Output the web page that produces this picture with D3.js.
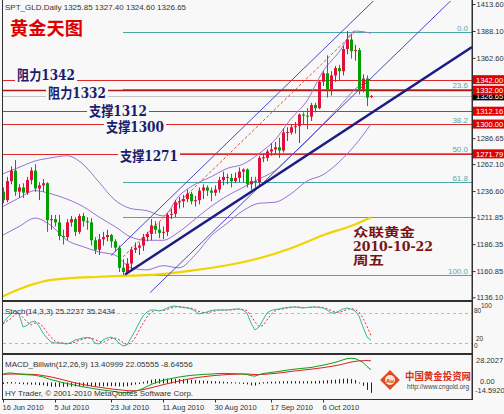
<!DOCTYPE html>
<html><head><meta charset="utf-8">
<script src="https://cdn.jsdelivr.net/npm/d3@7"></script>
<style>
body{margin:0;background:#f8f8f8;}
svg{display:block;font-family:"Liberation Sans",Arial,sans-serif;}
</style></head>
<body><svg id="c" width="504" height="414"></svg>
<script>
// ---------------- DATA ----------------
const dates = ["2010-06-16","2010-06-17","2010-06-18","2010-06-21","2010-06-22","2010-06-23","2010-06-24","2010-06-25","2010-06-28","2010-06-29","2010-06-30","2010-07-01","2010-07-02","2010-07-05","2010-07-06","2010-07-07","2010-07-08","2010-07-09","2010-07-12","2010-07-13","2010-07-14","2010-07-15","2010-07-16","2010-07-19","2010-07-20","2010-07-21","2010-07-22","2010-07-23","2010-07-26","2010-07-27","2010-07-28","2010-07-29","2010-07-30","2010-08-02","2010-08-03","2010-08-04","2010-08-05","2010-08-06","2010-08-09","2010-08-10","2010-08-11","2010-08-12","2010-08-13","2010-08-16","2010-08-17","2010-08-18","2010-08-19","2010-08-20","2010-08-23","2010-08-24","2010-08-25","2010-08-26","2010-08-27","2010-08-30","2010-08-31","2010-09-01","2010-09-02","2010-09-03","2010-09-06","2010-09-07","2010-09-08","2010-09-09","2010-09-10","2010-09-13","2010-09-14","2010-09-15","2010-09-16","2010-09-17","2010-09-20","2010-09-21","2010-09-22","2010-09-23","2010-09-24","2010-09-27","2010-09-28","2010-09-29","2010-09-30","2010-10-01","2010-10-04","2010-10-05","2010-10-06","2010-10-07","2010-10-08","2010-10-11","2010-10-12","2010-10-13","2010-10-14","2010-10-15","2010-10-18","2010-10-19","2010-10-20","2010-10-21","2010-10-22"];
const open  = [1236,1228,1246,1256,1236,1240,1235,1247,1256,1239,1242,1244,1209,1210,1207,1194,1193,1207,1210,1198,1213,1208,1207,1190,1181,1191,1193,1195,1189,1183,1164,1160,1168,1181,1183,1185,1193,1196,1204,1200,1197,1198,1214,1215,1226,1227,1229,1234,1227,1228,1237,1240,1237,1235,1238,1247,1250,1249,1246,1249,1255,1257,1243,1246,1245,1268,1268,1274,1276,1278,1275,1292,1292,1297,1298,1309,1308,1307,1318,1315,1340,1348,1333,1346,1353,1350,1371,1380,1369,1370,1333,1343,1325.85];
const high  = [1240,1250,1260,1266,1243,1244,1250,1259,1262,1245,1248,1245,1214,1214,1214,1200,1210,1213,1212,1215,1216,1212,1211,1193,1196,1198,1200,1196,1191,1185,1172,1173,1184,1188,1188,1196,1198,1210,1208,1207,1203,1216,1220,1228,1231,1233,1238,1236,1232,1240,1243,1242,1240,1242,1250,1255,1253,1253,1254,1259,1258,1258,1250,1250,1270,1272,1276,1282,1283,1287,1296,1297,1300,1302,1310,1311,1315,1320,1320,1341,1350,1365,1350,1355,1356,1374,1388,1385,1375,1372,1347,1346,1327.40];
const low   = [1225,1226,1243,1232,1230,1230,1233,1243,1236,1228,1236,1198,1200,1203,1190,1186,1190,1203,1194,1196,1203,1200,1185,1177,1176,1185,1189,1183,1179,1160,1157,1158,1162,1178,1176,1180,1189,1190,1196,1192,1191,1194,1210,1212,1220,1221,1226,1224,1222,1224,1229,1232,1227,1232,1235,1242,1243,1240,1244,1245,1245,1240,1238,1240,1242,1264,1265,1270,1272,1268,1273,1284,1290,1291,1282,1300,1295,1303,1311,1314,1336,1325,1327,1340,1341,1346,1366,1362,1360,1328,1330,1317,1324.60];
const close = [1228,1246,1256,1236,1240,1235,1247,1256,1239,1242,1244,1209,1210,1207,1194,1193,1207,1210,1198,1213,1208,1207,1190,1181,1191,1193,1195,1189,1183,1164,1160,1168,1181,1183,1185,1193,1196,1204,1200,1197,1198,1214,1215,1226,1227,1229,1234,1227,1228,1237,1240,1237,1235,1238,1247,1250,1249,1246,1249,1255,1257,1243,1246,1245,1268,1268.5,1274,1276,1278,1275,1292,1292.5,1297,1298,1309,1308,1307,1318,1315,1340,1348,1333,1346,1353,1350,1371,1380,1369,1370,1333,1343,1325,1326.65];

// Bollinger bands (20,2) read at every 4th bar
const bbIdx    = [0,4,8,12,16,20,24,28,32,36,40,44,48,52,56,60,64,68,72,76,80,84,88,92];
const bbUpper  = [1253,1259,1265,1268,1270,1262,1245,1228,1220,1218,1213,1232,1243,1250,1258,1262,1272,1285,1305,1322,1350,1368,1388,1386];
const bbMiddle = [1222,1230,1237,1234,1229,1222,1212,1203,1193,1190,1190,1198,1210,1222,1232,1240,1248,1256,1270,1284,1300,1316,1333,1343];
const bbLower  = [1195,1203,1211,1204,1190,1184,1179,1176,1164,1162,1166,1164,1176,1194,1206,1218,1225,1226,1234,1246,1252,1264,1280,1300];
// long moving average (yellow)
const maIdx  = [0,4,8,10,16,24,32,40,48,56,64,72,80,88,92];
const maVals = [1137,1143.7,1149,1151,1154,1155.5,1156.5,1158,1161.7,1166.4,1173,1182.5,1194.8,1205,1211.9];

const stochK = [60,70,78,84,78,52,55,62,64,54,40,30,22,20,20,19,18,21,26,28,30,31,30,20,18,26,30,32,28,20,14,16,30,44,60,74,82,86,86,84,86,90,93,94,92,91,90,88,84,78,80,82,85,86,86,86,86,87,88,88,86,80,60,46,52,66,80,85,87,88,90,91,92,92,91,90,91,92,92,91,90,86,80,80,84,88,90,88,84,74,52,32,25.2237];
const stochD = [58,64,69,77,80,71,62,56,60,60,53,41,31,24,21,20,19,19,22,25,28,30,30,27,23,21,25,29,30,27,21,17,20,30,45,59,72,81,85,85,85,87,90,92,93,92,91,90,87,83,81,80,82,84,86,86,86,86,87,88,87,85,75,62,53,55,66,77,84,87,88,90,91,92,92,91,91,91,92,92,91,89,85,82,81,84,87,89,87,82,70,53,35.2434];
const macdMain = [9,10,10.2,9.8,9.2,8.8,8.5,8.3,8.0,7.2,6.4,5.0,3.8,2.8,1.8,0.8,0,-0.8,-1.6,-2.4,-3.2,-3.8,-4.5,-5.2,-5.8,-6.3,-6.8,-7.3,-7.9,-8.5,-9.0,-9.0,-8.3,-7.5,-6.6,-4.8,-3.0,-1.0,0.5,1.8,3.0,3.9,4.8,5.6,6.3,6.9,7.4,7.9,8.2,8.5,8.8,9.0,9.2,9.5,9.7,9.7,9.7,9.7,9.6,9.4,9.2,8.8,7.6,7.2,8.5,9.7,10.2,10.8,11.2,11.8,12.4,13.0,13.5,14.0,14.4,14.8,15.2,15.6,16.3,17.1,17.8,18.7,19.6,20.5,21.7,23.0,24.2,24.6,24.3,22.5,20.5,16.5,13.40999];
const macdSignal = [9,9.1,9.2,9.2,9.2,9.1,9.0,8.9,8.7,8.4,7.6,7.1,6.4,5.5,4.6,3.6,2.6,1.6,0.7,-0.2,-1.0,-1.7,-2.4,-3.0,-3.6,-4.1,-4.7,-5.2,-5.7,-6.1,-6.5,-6.9,-7.1,-7.0,-6.6,-6.0,-5.2,-4.2,-3.2,-2.2,-1.2,-0.3,0.6,1.5,2.4,3.2,4.0,4.7,5.4,6.0,6.5,7.0,7.4,7.8,8.1,8.4,8.7,8.9,9.0,9.1,9.2,9.2,9.0,8.7,8.7,8.9,9.1,9.5,9.8,10.2,10.7,11.2,11.7,12.2,12.6,13.1,13.5,13.9,14.4,14.9,15.4,16.0,16.6,17.3,18.0,18.9,19.9,20.8,21.5,22.0,22.2,22.3,22.05555];
const macdHist = [0,0.9,1.0,0.6,0,-0.3,-0.5,-0.6,-0.7,-1.2,-1.2,-2.1,-2.6,-2.7,-2.8,-2.8,-2.6,-2.4,-2.3,-2.2,-2.2,-2.1,-2.1,-2.2,-2.2,-2.2,-2.1,-2.1,-2.2,-2.4,-2.5,-2.1,-1.2,-0.5,0,1.2,2.2,3.2,3.7,4.0,4.2,4.2,4.2,4.1,3.9,3.7,3.4,3.2,2.8,2.5,2.3,2.0,1.8,1.7,1.6,1.3,1.0,0.8,0.6,0.3,0,-0.4,-1.4,-1.5,-0.2,0.8,1.1,1.3,1.4,1.6,1.7,1.8,1.8,1.8,1.8,1.7,1.7,1.7,1.9,2.2,2.4,2.7,3.0,3.2,3.7,4.1,4.3,3.8,2.8,0.5,-1.7,-5.8,-8.64556];

const priceTicks = [1413.60,1388.10,1362.60,1286.65,1262.10,1236.60,1211.85,1186.35,1160.85,1136.10];
const dateTickLabels = ["16 Jun 2010","5 Jul 2010","23 Jul 2010","11 Aug 2010","30 Aug 2010","17 Sep 2010","6 Oct 2010"];
const dateTickDates  = ["2010-06-16","2010-07-05","2010-07-23","2010-08-11","2010-08-30","2010-09-17","2010-10-06"];

const levelValues = [1342.00,1332.00,1312.16,1300.00,1271.79];
const levelNames  = ["阻力1342","阻力1332","支撑1312","支撑1300","支撑1271"];
const bidPrice = 1326.65;
const fibHigh = 1387.5, fibLow = 1157.5, fibStartDate = "2010-07-28";
const fibRatios = [0, 23.6, 38.2, 50.0, 61.8, 76.4, 100.0];
const fibShowLabel = [true,true,true,true,true,false,true];
// trend / channel anchors: [bar index, price]
const trendMain   = [[30.5,1157.6],[117.25,1372.9]];
const chanUpper   = [[27,1175.6],[96,1429]];
const chanMiddle  = [[30,1174.3],[88,1387.4]];
const chanLower   = [[36.75,1140.4],[117.25,1436.2]];

// ---------------- DRAW ----------------
const svg = d3.select("#c");
const L = 3, R = 472;
const x = d3.scaleLinear().domain([0,117.25]).range([L,R]);
const yM = d3.scaleLinear().domain([1133.5,1415.5]).range([300,2]);
const yS = d3.scaleLinear().domain([0,100]).range([353,303]);
const yD = d3.scaleLinear().domain([-14.592,28.2027]).range([398.5,354.5]);
const cx = i => Math.round(x(i)) + 0.5;

svg.append("rect").attr("width",504).attr("height",414).attr("fill","#f8f8f8");
const defs = svg.append("defs");
defs.append("clipPath").attr("id","clipM").append("rect").attr("x",L).attr("y",1).attr("width",R-L).attr("height",299);
defs.append("clipPath").attr("id","clipS").append("rect").attr("x",L).attr("y",302).attr("width",R-L).attr("height",51);
defs.append("clipPath").attr("id","clipD").append("rect").attr("x",L).attr("y",355).attr("width",R-L).attr("height",44);

const gM = svg.append("g").attr("clip-path","url(#clipM)");

// fib lines
const fibX0 = x(dates.indexOf(fibStartDate));
fibRatios.forEach((r,k)=>{
  const p = fibHigh - (fibHigh-fibLow)*r/100;
  const yy = Math.round(yM(p))+0.5;
  gM.append("line").attr("x1",fibX0).attr("x2",R).attr("y1",yy).attr("y2",yy)
    .attr("stroke","#4aa8a4").attr("stroke-width",1);
  if (fibShowLabel[k]) gM.append("text").attr("x",R-4).attr("y",yy-2).attr("text-anchor","end")
    .attr("font-size",8).attr("fill","#5aa6a6").text(r.toFixed(1));
});

// level lines
levelValues.forEach((v,k)=>{
  const yy = Math.round(yM(v))+0.5;
  gM.append("line").attr("x1",L).attr("x2",R).attr("y1",yy).attr("y2",yy)
    .attr("stroke", k===1 ? "#b01818" : "#e02828").attr("stroke-width", k===1?1.6:1.2);
});
// bid line
{ const yy = Math.round(yM(bidPrice))+0.5;
  gM.append("line").attr("x1",L).attr("x2",R).attr("y1",yy).attr("y2",yy).attr("stroke","#c4c4c4"); }

// moving average (yellow)
const lineIdx = d3.line().x(d=>x(d[0])).y(d=>yM(d[1])).curve(d3.curveMonotoneX);
gM.append("path").attr("d", lineIdx(maIdx.map((d,k)=>[d,maVals[k]]))).attr("fill","none")
  .attr("stroke","#f0d400").attr("stroke-width",2.2);

// bollinger
[bbUpper,bbMiddle,bbLower].forEach(arr=>{
  gM.append("path").attr("d", lineIdx(bbIdx.map((d,k)=>[d,arr[k]]))).attr("fill","none")
    .attr("stroke","#9c72d4").attr("stroke-width",1);
});

// channel
const seg = d3.line().x(d=>x(d[0])).y(d=>yM(d[1]));
gM.append("path").attr("d",seg(chanUpper)).attr("stroke","#4848c8").attr("fill","none").attr("stroke-width",1);
gM.append("path").attr("d",seg(chanLower)).attr("stroke","#4848c8").attr("fill","none").attr("stroke-width",1);
gM.append("path").attr("d",seg(chanMiddle)).attr("stroke","#e05050").attr("fill","none").attr("stroke-width",1).attr("stroke-dasharray","3,2");

// candles
const up = "#e0103c", dn = "#00a000";
dates.forEach((d,i)=>{
  const c = close[i]>=open[i] ? up : dn;
  const X = cx(i);
  gM.append("line").attr("x1",X).attr("x2",X).attr("y1",yM(high[i])).attr("y2",yM(low[i])).attr("stroke",c);
  const yt = yM(Math.max(open[i],close[i])), yb = yM(Math.min(open[i],close[i]));
  gM.append("rect").attr("x",X-1.5).attr("y",yt).attr("width",3).attr("height",Math.max(1,yb-yt)).attr("fill",c);
});

// main trend line
gM.append("path").attr("d",seg(trendMain)).attr("stroke","#1c1c84").attr("fill","none").attr("stroke-width",2.6);

// level annotation labels
const lblPos = [[17,-5],[48,3],[89,0],[106,3],[120,2]];
levelNames.forEach((t,k)=>{
  const yy = yM(levelValues[k]) + lblPos[k][1];
  gM.append("rect").attr("x",lblPos[k][0]-2).attr("y",yy-7).attr("width",62).attr("height",14).attr("fill","#f8f8f8");
  gM.append("text").attr("x",lblPos[k][0]).attr("y",yy+5).attr("font-size",14).attr("font-weight","bold")
    .attr("font-family","'DejaVu Serif','Noto Sans CJK SC',serif").attr("fill","#1c1c6c")
    .attr("textLength",58).attr("lengthAdjust","spacingAndGlyphs").text(t);
});

// titles
svg.append("text").attr("x",5).attr("y",10).attr("font-size",8).attr("fill","#333")
  .text("SPT_GLD.Daily  1325.85 1327.40 1324.60 1326.65");
svg.append("text").attr("x",10).attr("y",35).attr("font-size",18).attr("font-weight","bold")
  .attr("font-family","'Noto Sans CJK SC',serif").attr("fill","#e00000")
  .attr("textLength",73).attr("lengthAdjust","spacingAndGlyphs").text("黄金天图");
const noteLines = ["众联黄金","2010-10-22","周五"];
const noteW = [62,80,31];
noteLines.forEach((t,k)=>{
  svg.append("text").attr("x",353).attr("y",237+k*14).attr("font-size",12.5).attr("font-weight","bold")
    .attr("font-family","'DejaVu Serif','Noto Sans CJK SC',serif").attr("fill","#7a1414")
    .attr("textLength",noteW[k]).attr("lengthAdjust","spacingAndGlyphs").text(t);
});

// ---------------- STOCH ----------------
const gS = svg.append("g").attr("clip-path","url(#clipS)");
[80,20].forEach(v=>{
  gS.append("line").attr("x1",L).attr("x2",R).attr("y1",Math.round(yS(v))+0.5).attr("y2",Math.round(yS(v))+0.5)
    .attr("stroke","#b8b8b8").attr("stroke-dasharray","3,3");
});
const lineS = d3.line().x((d,i)=>x(i)).y(d=>yS(d));
gS.append("path").attr("d",lineS(stochD)).attr("fill","none").attr("stroke","#e03030").attr("stroke-dasharray","2,2");
gS.append("path").attr("d",lineS(stochK)).attr("fill","none").attr("stroke","#38b4a4");
svg.append("text").attr("x",5).attr("y",314).attr("font-size",8).attr("fill","#333").text("Stoch(14,3,3) 25.2237 35.2434");

// ---------------- MACD ----------------
const gD = svg.append("g").attr("clip-path","url(#clipD)");
const y0 = Math.round(yD(0));
macdHist.forEach((h,i)=>{
  const X = cx(i);
  const yh = yD(h);
  gD.append("line").attr("x1",X).attr("x2",X).attr("y1",Math.min(y0,yh)-0.5).attr("y2",Math.max(y0,yh)+0.5)
    .attr("stroke","#202020").attr("stroke-width",1);
});
const lineD = d3.line().x((d,i)=>x(i)).y(d=>yD(d));
gD.append("path").attr("d",lineD(macdSignal)).attr("fill","none").attr("stroke","#e02020");
gD.append("path").attr("d",lineD(macdMain)).attr("fill","none").attr("stroke","#10a010");
svg.append("text").attr("x",5).attr("y",367).attr("font-size",8).attr("fill","#333").text("MACD_Billwin(12,26,9) 13.40999 22.05555 -8.64556");
svg.append("text").attr("x",5).attr("y",396).attr("font-size",8).attr("fill","#333").text("HY Trader, © 2001-2010 MetaQuotes Software Corp.");

// logo
const lg = svg.append("g").attr("transform","translate(390,380)");
lg.append("rect").attr("x",-7).attr("y",-7).attr("width",14).attr("height",14).attr("transform","rotate(45)").attr("fill","#e04a1c");
lg.append("circle").attr("r",5).attr("fill","#fff").attr("opacity",0.85);
lg.append("text").attr("y",2.5).attr("text-anchor","middle").attr("font-size",6).attr("font-weight","bold").attr("fill","#c03010").text("Au");
svg.append("text").attr("x",405).attr("y",380).attr("font-size",10).attr("font-weight","bold")
  .attr("font-family","'Noto Sans CJK SC',sans-serif").attr("fill","#d8301a")
  .attr("textLength",66).attr("lengthAdjust","spacingAndGlyphs").text("中国黄金投资网");
svg.append("text").attr("x",407).attr("y",389).attr("font-size",6.5).attr("fill","#444").text("http://www.cngold.org");

// ---------------- FRAMES ----------------
const frame = (y1,y2)=> svg.append("rect").attr("x",2.5).attr("y",y1+0.5).attr("width",R-2.5).attr("height",y2-y1)
  .attr("fill","none").attr("stroke","#303030");
frame(-1,300); frame(301,353); frame(354,399);

// right axis
const axR = d3.axisRight(yM).tickValues(priceTicks).tickFormat(d=>d.toFixed(2)).tickSize(3).tickPadding(1);
const ga = svg.append("g").attr("transform",`translate(${R+0.5},0)`).call(axR);
ga.select(".domain").remove();
ga.selectAll("text").attr("font-size",7.5).attr("fill","#333").attr("font-family","'Liberation Sans',Arial");
ga.selectAll("line").attr("stroke","#333");
svg.append("line").attr("x1",R+0.5).attr("x2",R+0.5).attr("y1",0).attr("y2",400).attr("stroke","#303030");

// price boxes (bid box first, red boxes drawn over it)
const boxes = [[bidPrice,"#000"],[1342.00,"#e00000"],[1332.00,"#e00000"],[1312.16,"#e00000"],[1300.00,"#e00000"],[1271.79,"#e00000"]];
boxes.forEach(([v,col])=>{
  const yy = yM(v);
  svg.append("rect").attr("x",R+1).attr("y",yy-4.5).attr("width",32).attr("height",9).attr("fill",col);
  svg.append("text").attr("x",R+4).attr("y",yy+3).attr("font-size",7.5).attr("fill","#fff").text(v.toFixed(2));
});

// stoch axis labels
const sLab = [["100",481,308],["80",474,313],["20",476,341],["0",474,348]];
sLab.forEach(([t,xx,yy])=>svg.append("text").attr("x",xx).attr("y",yy).attr("font-size",6.5).attr("fill","#333").text(t));
// macd axis labels
const dLab = [["28.2027",476,363],["0.00",480,384],["-14.5920",475,393]];
dLab.forEach(([t,xx,yy])=>svg.append("text").attr("x",xx).attr("y",yy).attr("font-size",7.5).attr("fill","#333").text(t));

// bottom axis
const axB = d3.axisBottom(x).tickValues(dateTickDates.map(d=>dates.indexOf(d)))
  .tickFormat((d,k)=>dateTickLabels[k]).tickSize(3).tickPadding(2);
const gb = svg.append("g").attr("transform","translate(0,399.5)").call(axB);
gb.select(".domain").remove();
gb.selectAll("text").attr("text-anchor","start").attr("font-size",7.5).attr("fill","#333").attr("dx",-1);
gb.selectAll("line").attr("stroke","#333");
</script></body></html>
